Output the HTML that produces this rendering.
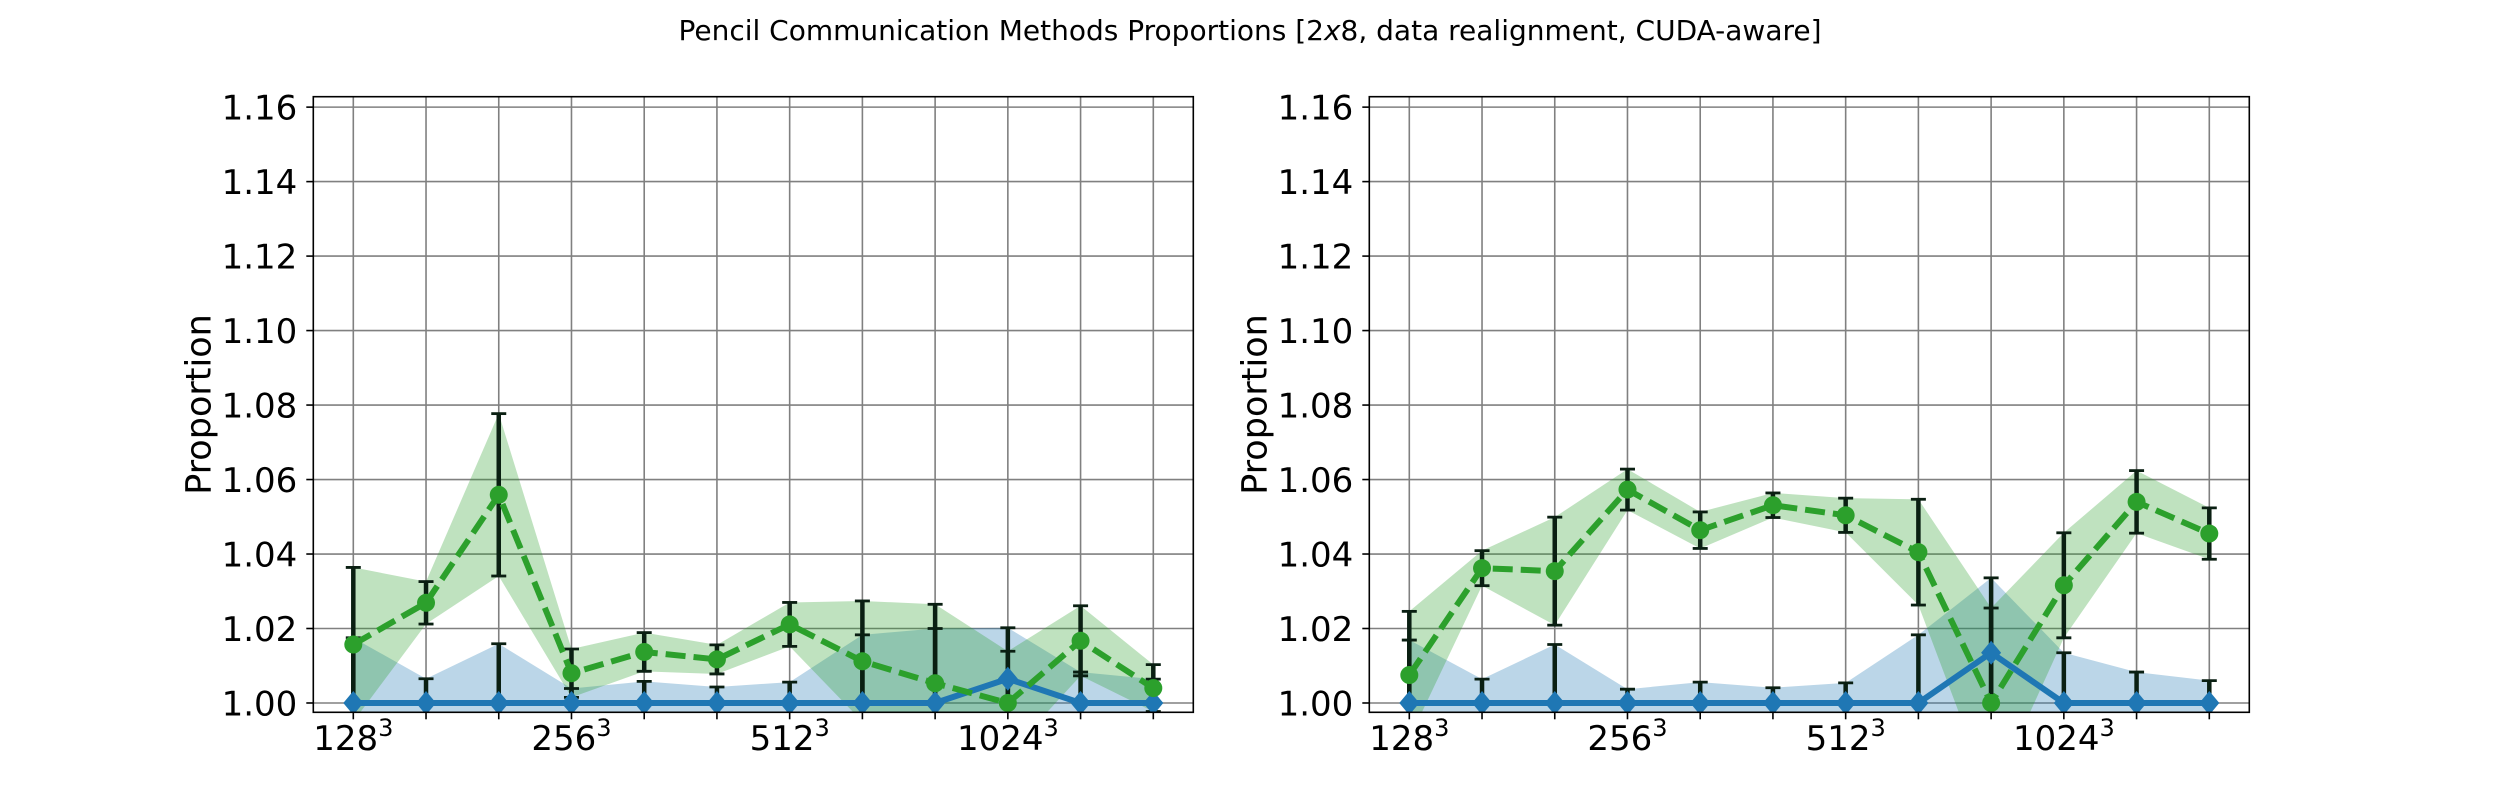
<!DOCTYPE html>
<html>
<head>
<meta charset="utf-8">
<style>
  html, body { margin: 0; padding: 0; background: #ffffff; }
  svg { display: block; font-family: "DejaVu Sans", "Liberation Sans", sans-serif; }
</style>
</head>
<body>
<svg id="fig" width="2500" height="800" viewBox="0 0 2500 800" xmlns="http://www.w3.org/2000/svg">
  <rect x="0" y="0" width="2500" height="800" fill="#ffffff"/>
  <text x="1250" y="40" font-size="28" text-anchor="middle">Pencil Communication Methods Proportions [2<tspan font-style="italic">x</tspan>8, data realignment, CUDA-aware]</text>
</svg>
<script>
// ---- data ----
const categories = ["128", "", "", "256", "", "", "512", "", "", "1024", "", ""];
const yTicks = [1.00, 1.02, 1.04, 1.06, 1.08, 1.10, 1.12, 1.14, 1.16];
const yTickLabels = ["1.00", "1.02", "1.04", "1.06", "1.08", "1.10", "1.12", "1.14", "1.16"];

const leftBlueMean = [1.0, 1.0, 1.0, 1.0, 1.0, 1.0, 1.0, 1.0, 1.0, 1.0065, 1.0, 1.0];
const leftBlueStd = [0.0175, 0.0065, 0.0159, 0.0039, 0.0058, 0.0043, 0.0056, 0.0183, 0.0200, 0.0137, 0.0083, 0.0064];
const leftGreenMean = [1.0157, 1.0269, 1.0559, 1.0080, 1.0137, 1.0117, 1.0211, 1.0112, 1.0053, 1.0000, 1.0167, 1.0040];
const leftGreenStd = [0.0207, 0.0057, 0.0218, 0.0065, 0.0052, 0.0039, 0.0059, 0.0162, 0.0212, 0.0139, 0.0094, 0.0063];

const rightBlueMean = [1.0, 1.0, 1.0, 1.0, 1.0, 1.0, 1.0, 1.0, 1.0135, 1.0, 1.0, 1.0];
const rightBlueStd = [0.0169, 0.0064, 0.0157, 0.0037, 0.0056, 0.0041, 0.0054, 0.0183, 0.0201, 0.0135, 0.0083, 0.0060];
const rightGreenMean = [1.0075, 1.0362, 1.0354, 1.0573, 1.0464, 1.0531, 1.0504, 1.0405, 1.0000, 1.0316, 1.0540, 1.0455];
const rightGreenStd = [0.0171, 0.0047, 0.0145, 0.0055, 0.0049, 0.0033, 0.0046, 0.0142, 0.0255, 0.0141, 0.0084, 0.0069];

const NS = "http://www.w3.org/2000/svg";
const svg = document.getElementById("fig");
const BLUE = "#1f77b4", GREEN = "#2ca02c";

function mk(tag, attrs, parent) {
  const e = document.createElementNS(NS, tag);
  for (const k in attrs) e.setAttribute(k, attrs[k]);
  (parent || svg).appendChild(e);
  return e;
}

function drawPanel(id, left, blueMean, blueStd, greenMean, greenStd) {
  const top = 96.7, bottom = 712.3, width = 880;
  const right = left + width;
  const xMin = -0.55, xMax = 11.55;
  const yMin = 0.9975, yMax = 1.1628;
  const xs = i => left + (i - xMin) / (xMax - xMin) * width;
  const ys = v => bottom - (v - yMin) / (yMax - yMin) * (bottom - top);

  const g = mk("g", {});
  
  

  const clipId = id + "-clip";
  const defs = mk("defs", {}, g);
  const cp = mk("clipPath", { id: clipId }, defs);
  mk("rect", { x: left, y: top, width: width, height: bottom - top }, cp);

  const grid = mk("g", { stroke: "#808080", "stroke-width": 1.6 }, g);
  
  
  categories.forEach((c, i) => {
    const gl = mk("line", { x1: xs(i), x2: xs(i), y1: top, y2: bottom }, grid);
    
    
  });
  yTicks.forEach(v => {
    const gl = mk("line", { x1: left, x2: right, y1: ys(v), y2: ys(v) }, grid);
    
    
  });

  const plot = mk("g", { "clip-path": "url(#" + clipId + ")" }, g);

  function band(mean, std, color, name) {
    let pts = [];
    mean.forEach((m, i) => pts.push(xs(i) + "," + ys(m + std[i])));
    for (let i = mean.length - 1; i >= 0; i--) pts.push(xs(i) + "," + ys(mean[i] - std[i]));
    const p = mk("polygon", { points: pts.join(" "), fill: color, "fill-opacity": 0.3 }, plot);
    
    
  }
  band(blueMean, blueStd, BLUE, 'blue-std-band');
  band(greenMean, greenStd, GREEN, 'green-std-band');

  function errbars(mean, std, name) {
    mean.forEach((m, i) => {
      const eg = mk("g", { stroke: "#0a1f12", "stroke-width": 4.5 }, plot);
      
      
      const x = xs(i), y1 = ys(m + std[i]), y2 = ys(m - std[i]);
      mk("line", { x1: x, x2: x, y1: y1, y2: y2 }, eg);
      mk("line", { x1: x - 7.5, x2: x + 7.5, y1: y1, y2: y1, "stroke-width": 2.8 }, eg);
      mk("line", { x1: x - 7.5, x2: x + 7.5, y1: y2, y2: y2, "stroke-width": 2.8 }, eg);
    });
  }
  errbars(blueMean, blueStd, 'blue-errorbar');
  errbars(greenMean, greenStd, 'green-errorbar');

  const bl = mk("polyline", { points: blueMean.map((m, i) => xs(i) + "," + ys(m)).join(" "), fill: "none", stroke: BLUE, "stroke-width": 6 }, plot);
  
  
  blueMean.forEach((m, i) => {
    const x = xs(i), y = ys(m), rh = 12, rw = 10;
    const d = mk("polygon", { points: `${x},${y - rh} ${x + rw},${y} ${x},${y + rh} ${x - rw},${y}`, fill: BLUE }, plot);
    
    
  });

  const gln = mk("polyline", { points: greenMean.map((m, i) => xs(i) + "," + ys(m)).join(" "), fill: "none", stroke: GREEN, "stroke-width": 6, "stroke-dasharray": "20,8" }, plot);
  
  
  greenMean.forEach((m, i) => {
    const c = mk("circle", { cx: xs(i), cy: ys(m), r: 9, fill: GREEN }, plot);
    
    
  });

  const sp = mk("rect", { x: left, y: top, width: width, height: bottom - top, fill: "none", stroke: "#000", "stroke-width": 1.6 }, g);
  
  

  yTicks.forEach((v, k) => {
    const y = ys(v);
    mk("line", { x1: left - 7, x2: left, y1: y, y2: y, stroke: "#000", "stroke-width": 1.6 }, g);
    const t = mk("text", { x: left - 16, y: y + 12.5, "font-size": 34, "text-anchor": "end", fill: "#000" }, g);
    t.textContent = yTickLabels[k];
    
    
  });
  categories.forEach((c, i) => {
    const x = xs(i);
    mk("line", { x1: x, x2: x, y1: bottom, y2: bottom + 7, stroke: "#000", "stroke-width": 1.6 }, g);
    if (c) {
      const t = mk("text", { x: x, y: 750, "font-size": 34, "text-anchor": "middle", fill: "#000" }, g);
      
      
      const base = document.createElementNS(NS, "tspan");
      base.textContent = c;
      t.appendChild(base);
      const sup = document.createElementNS(NS, "tspan");
      sup.setAttribute("font-size", "24");
      sup.setAttribute("dy", "-14");
      sup.textContent = "3";
      t.appendChild(sup);
    }
  });
  const cy = (top + bottom) / 2;
  const yl = mk("text", { x: left - 115, y: cy, "font-size": 35, "text-anchor": "middle", transform: `rotate(-90 ${left - 115} ${cy})`, dy: 12 }, g);
  yl.textContent = "Proportion";
  
  
}

drawPanel("left", 313.3, leftBlueMean, leftBlueStd, leftGreenMean, leftGreenStd);
drawPanel("right", 1369.3, rightBlueMean, rightBlueStd, rightGreenMean, rightGreenStd);
</script>
</body>
</html>
